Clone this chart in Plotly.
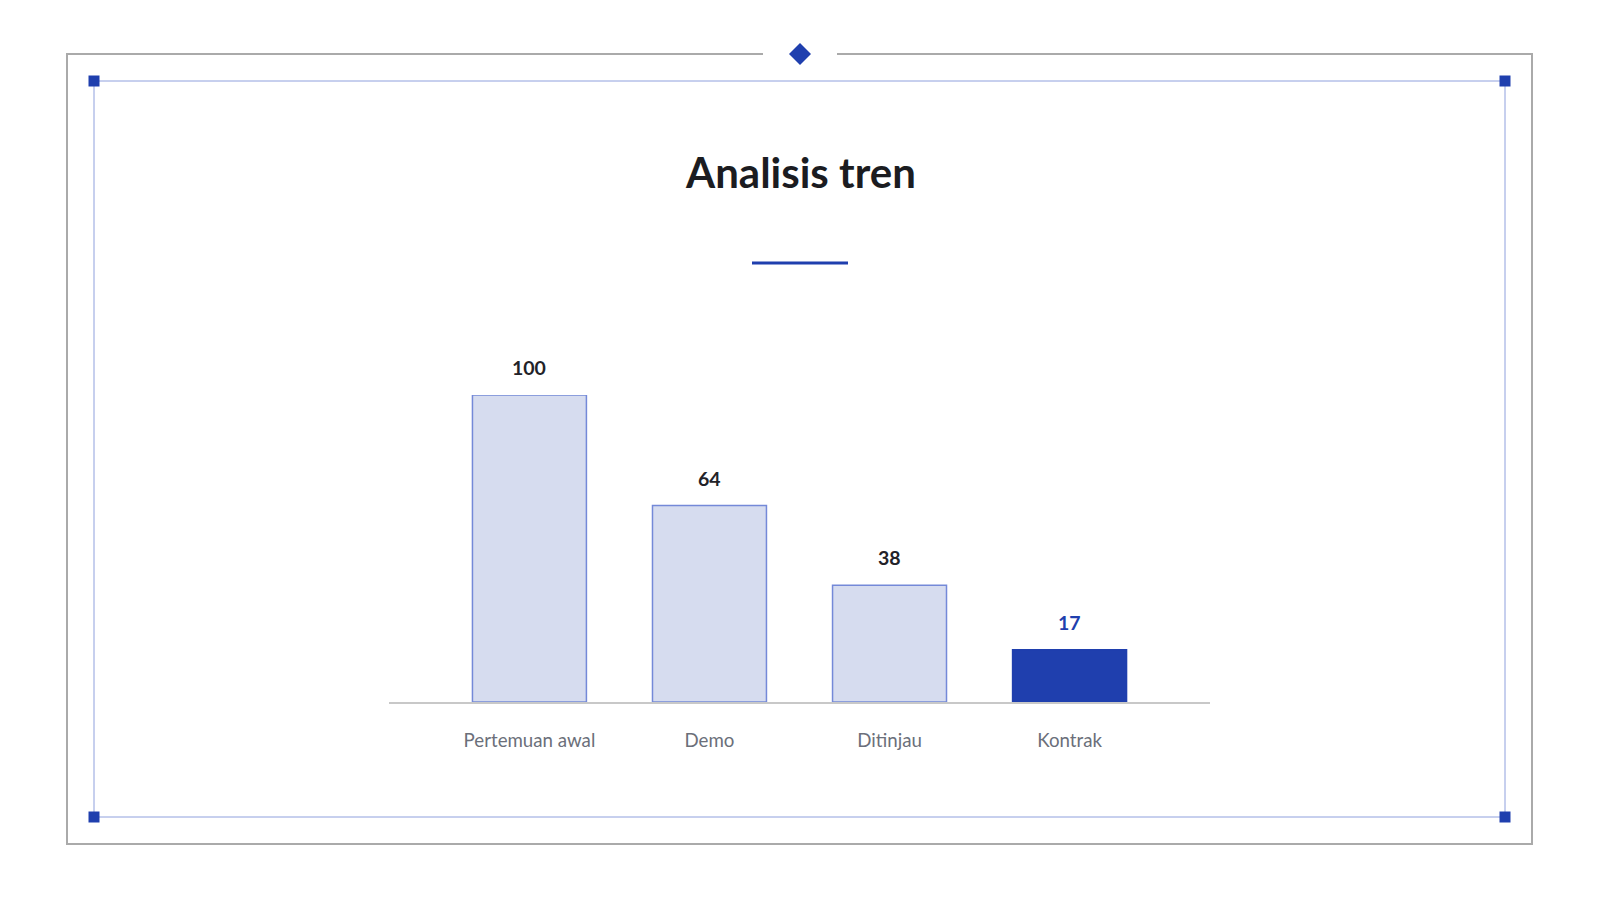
import plotly.graph_objects as go

categories = ["Pertemuan awal", "Demo", "Ditinjau", "Kontrak"]
values = [100, 64, 38, 17]
highlight = [False, False, False, True]
title_text = "Analisis tren"

# the page body has an 8px margin; figure sized to fit inside the window
OFF = 8
W, H = 1598 - 2 * OFF, 900 - 2 * OFF
ACCENT = "#1f3fae"
LIGHT_FILL = "#d6dcef"
LIGHT_LINE = "#7489d8"

def px(x):
    return (x - OFF + 1) / W

def py(y):
    return 1 - (y - OFF) / H

fills = [ACCENT if h else LIGHT_FILL for h in highlight]
lines = [ACCENT if h else LIGHT_LINE for h in highlight]

fig = go.Figure(go.Bar(
    x=categories, y=values,
    marker=dict(color=fills, line=dict(color=lines, width=1.5)),
    width=0.633,
    hoverinfo="skip",
))

for c, v, h in zip(categories, values, highlight):
    fig.add_annotation(
        x=c, y=v, xref="x", yref="y", text=f"<b>{v}</b>", showarrow=False,
        yanchor="bottom", yshift=14,
        font=dict(family="Lato", size=19.5, color=ACCENT if h else "#222228"),
    )

fig.add_annotation(
    x=px(799), y=py(172), xref="paper", yref="paper", text=f"<b>{title_text}</b>",
    showarrow=False, xanchor="center", yanchor="middle",
    font=dict(family="Lato", size=42, color="#1b1c21"),
)

shapes = []
# outer frame with gap for diamond
shapes.append(dict(
    type="path", xref="paper", yref="paper",
    path=(f"M {px(762)} {py(54)} L {px(66)} {py(54)} L {px(66)} {py(844)} "
          f"L {px(1531)} {py(844)} L {px(1531)} {py(54)} L {px(836)} {py(54)}"),
    line=dict(color="#aaaaaa", width=2),
))
# inner frame
shapes.append(dict(type="rect", xref="paper", yref="paper",
                   x0=px(93), x1=px(1504), y0=py(81), y1=py(817),
                   line=dict(color="#8fa0dd", width=1)))
# corner squares
for cx, cy in [(93, 81), (1504, 81), (93, 817), (1504, 817)]:
    shapes.append(dict(type="rect", xref="paper", yref="paper",
                       x0=px(cx - 5.5), x1=px(cx + 5.5), y0=py(cy - 5.5), y1=py(cy + 5.5),
                       fillcolor=ACCENT, line=dict(width=0)))
# diamond
d = 11
shapes.append(dict(type="path", xref="paper", yref="paper",
                   path=(f"M {px(799)} {py(54 - d)} L {px(799 + d)} {py(54)} "
                         f"L {px(799)} {py(54 + d)} L {px(799 - d)} {py(54)} Z"),
                   fillcolor=ACCENT, line=dict(width=0)))
# title underline
shapes.append(dict(type="line", xref="paper", yref="paper",
                   x0=px(751), x1=px(847), y0=py(263), y1=py(263),
                   line=dict(color=ACCENT, width=3)))

fig.update_layout(
    width=W, height=H,
    margin=dict(l=0, r=0, t=0, b=0),
    paper_bgcolor="white", plot_bgcolor="white",
    showlegend=False,
    shapes=shapes,
    xaxis=dict(
        domain=[px(388), px(1209)], range=[-0.78, 3.78],
        showline=True, linecolor="#c8c8c8", linewidth=2,
        showgrid=False, zeroline=False, ticks="", fixedrange=True,
        tickfont=dict(family="Lato", size=18.7, color="#6b6f7a"),
        ticklabelstandoff=21,
    ),
    yaxis=dict(
        domain=[py(702), py(395)], range=[0, 100],
        visible=False, showgrid=False, zeroline=False, fixedrange=True,
    ),
)

fig.write_html("out.html")
